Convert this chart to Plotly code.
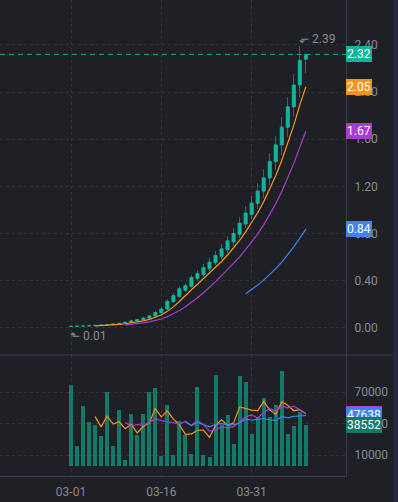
import pandas as pd
import plotly.graph_objects as go

# ---------------- data ----------------
start = "2024-03-01"
n_days = 40
dates = pd.date_range(start, periods=n_days, freq="D")

open_ = [0.010, 0.012, 0.013, 0.015, 0.017, 0.020, 0.023, 0.027, 0.032, 0.038,
         0.046, 0.056, 0.068, 0.082, 0.100, 0.128, 0.158, 0.222, 0.266, 0.318,
         0.352, 0.418, 0.452, 0.500, 0.552, 0.606, 0.662, 0.728, 0.792, 0.880,
         0.962, 1.056, 1.160, 1.272, 1.410, 1.552, 1.702, 1.875, 2.060, 2.280]
high = [0.013, 0.014, 0.016, 0.018, 0.021, 0.025, 0.029, 0.034, 0.041, 0.050,
        0.063, 0.074, 0.089, 0.110, 0.140, 0.172, 0.245, 0.296, 0.352, 0.382,
        0.450, 0.488, 0.540, 0.588, 0.648, 0.708, 0.780, 0.848, 0.940, 1.030,
        1.120, 1.230, 1.350, 1.480, 1.630, 1.790, 1.960, 2.150, 2.390, 2.320]
low = [0.010, 0.011, 0.012, 0.014, 0.016, 0.019, 0.022, 0.025, 0.030, 0.036,
       0.043, 0.052, 0.064, 0.077, 0.094, 0.120, 0.150, 0.210, 0.250, 0.300,
       0.335, 0.395, 0.430, 0.478, 0.528, 0.582, 0.635, 0.695, 0.760, 0.845,
       0.925, 1.005, 1.105, 1.210, 1.340, 1.465, 1.620, 1.790, 1.960, 2.160]
close = [0.012, 0.013, 0.015, 0.017, 0.020, 0.023, 0.027, 0.032, 0.038, 0.046,
         0.058, 0.068, 0.082, 0.100, 0.128, 0.158, 0.224, 0.272, 0.330, 0.357,
         0.426, 0.460, 0.510, 0.556, 0.613, 0.669, 0.737, 0.800, 0.888, 0.973,
         1.058, 1.160, 1.272, 1.410, 1.552, 1.702, 1.875, 2.060, 2.270, 2.320]
volume = [77000, 18500, 57000, 41800, 38500, 28000, 70200, 18500, 53000, 5500,
          49000, 29000, 49000, 70200, 73800, 9300, 57500, 10000, 42600, 29000,
          11200, 75000, 10200, 8300, 86400, 38100, 48300, 20700, 85500, 79100,
          29800, 46000, 64100, 46000, 57500, 89800, 29800, 37500, 50910, 38552]

price_ticks = [0.0, 0.4, 0.8, 1.2, 1.6, 2.0, 2.4]
volume_ticks = [10000, 40000, 70000]
date_ticks = ["2024-03-01", "2024-03-16", "2024-03-31"]
date_tick_text = ["03-01", "03-16", "03-31"]

price_ma = [(5, "#f7941d"), (10, "#a93ccf"), (30, "#3d84f0")]
volume_ma = [(5, "#f7941d"), (10, "#a93ccf"), (20, "#3d84f0")]

# ---------------- style ----------------
BG = "#1f2026"
GRID = "#32343c"
AXIS = "#3b3d45"
TXT = "#878a93"
UP = "#13b59a"
WICK = "#0f7a67"
VOL = "#117a69"
CLOSE_LINE = "#17a88f"
FONT = "Roboto"

day_ms = 86400000.0
px_per_day = 6.022
body_w = 3.0 / px_per_day * day_ms
wick_w = 1.0 / px_per_day * day_ms
vol_w = 4.0 / px_per_day * day_ms

df = pd.DataFrame({"date": dates, "open": open_, "high": high, "low": low,
                   "close": close, "volume": volume})

fig = go.Figure()

# wicks
fig.add_trace(go.Bar(x=df["date"], y=df["high"] - df["low"], base=df["low"],
                     width=wick_w, marker=dict(color=WICK, line=dict(width=0)),
                     xaxis="x", yaxis="y", hoverinfo="skip"))
# bodies
body_base = df[["open", "close"]].min(axis=1)
body_h = (df["close"] - df["open"]).abs()
fig.add_trace(go.Bar(x=df["date"], y=body_h, base=body_base, width=body_w,
                     marker=dict(color=UP, line=dict(width=1, color=UP)),
                     xaxis="x", yaxis="y"))

for n, col in price_ma:
    ma = df["close"].rolling(n).mean()
    fig.add_trace(go.Scatter(x=df["date"], y=ma, mode="lines",
                             line=dict(color=col, width=1.2),
                             xaxis="x", yaxis="y", hoverinfo="skip"))

# volume
fig.add_trace(go.Bar(x=df["date"], y=df["volume"], width=vol_w,
                     marker=dict(color=VOL, line=dict(width=0)),
                     xaxis="x", yaxis="y2"))
vol_mas = []
for n, col in volume_ma:
    ma = df["volume"].rolling(n).mean()
    vol_mas.append((ma.iloc[-1], col))
    fig.add_trace(go.Scatter(x=df["date"], y=ma, mode="lines",
                             line=dict(color=col, width=1.2),
                             xaxis="x", yaxis="y2", hoverinfo="skip"))

# geometry
W, H = 398, 502
ml, mr, mt, mb = 0, 52, 0, 26
plot_w = W - ml - mr
plot_h = H - mt - mb
split = (476 - 355) / plot_h

x0 = pd.Timestamp(start) - pd.Timedelta(days=71 / px_per_day)
x1 = pd.Timestamp(start) + pd.Timedelta(days=(plot_w - 71) / px_per_day)

fig.update_layout(
    width=W, height=H,
    margin=dict(l=ml, r=mr, t=mt, b=mb, pad=0),
    paper_bgcolor=BG, plot_bgcolor=BG,
    showlegend=False, barmode="overlay", bargap=0,
    font=dict(family=FONT, size=12, color=TXT),
    xaxis=dict(type="date", range=[x0, x1], anchor="y2",
               tickvals=date_ticks, ticktext=date_tick_text,
               showgrid=True, gridcolor=GRID, griddash="dot", gridwidth=1,
               showline=True, linecolor=AXIS, linewidth=1,
               ticks="outside", ticklen=5, tickcolor="rgba(0,0,0,0)",
               tickfont=dict(color=TXT, size=12, family=FONT),
               zeroline=False, fixedrange=True),
    yaxis=dict(domain=[split, 1], side="right", anchor="x",
               range=[-0.232, 2.782],
               tickvals=price_ticks, ticktext=[f"{v:.2f}" for v in price_ticks],
               showgrid=True, gridcolor=GRID, griddash="dot", gridwidth=1,
               showline=True, linecolor=AXIS, linewidth=1,
               ticks="outside", ticklen=5, tickcolor="rgba(0,0,0,0)",
               tickfont=dict(color=TXT, size=12, family=FONT),
               zeroline=False, fixedrange=True),
    yaxis2=dict(domain=[0, split], side="right", anchor="x",
                range=[-10000, 105238],
                tickvals=volume_ticks, ticktext=[str(v) for v in volume_ticks],
                showgrid=True, gridcolor=GRID, griddash="dot", gridwidth=1,
                showline=True, linecolor=AXIS, linewidth=1,
                ticks="outside", ticklen=5, tickcolor="rgba(0,0,0,0)",
                tickfont=dict(color=TXT, size=12, family=FONT),
                zeroline=False, fixedrange=True),
)

shapes = [
    # right strip
    dict(type="rect", xref="paper", yref="paper",
         x0=(393 - ml) / plot_w, x1=(W + 5) / plot_w, y0=-0.2, y1=1.2,
         fillcolor="#272940", line=dict(width=0), layer="above"),
    # pane separator
    dict(type="line", xref="paper", yref="paper", x0=0, x1=(393 - ml) / plot_w,
         y0=split, y1=split, line=dict(color=AXIS, width=1)),
    # last close dashed line
    dict(type="line", xref="paper", yref="y", x0=0, x1=1,
         y0=close[-1], y1=close[-1],
         line=dict(color=CLOSE_LINE, width=1, dash="5px,4px")),
]
fig.update_layout(shapes=shapes)

ann = []
# max / min marks
imax = max(range(n_days), key=lambda i: high[i])
imin = min(range(n_days), key=lambda i: low[i])
ann.append(dict(x=dates[imax], y=high[imax], xref="x", yref="y",
                text=f"⬐ {high[imax]:.2f}", showarrow=False,
                xanchor="left", yanchor="bottom", xshift=-3, yshift=-2,
                font=dict(color=TXT, size=12, family=FONT)))
ann.append(dict(x=dates[imin], y=low[imin], xref="x", yref="y",
                text=f"⬑ {low[imin]:.2f}", showarrow=False,
                xanchor="left", yanchor="top", xshift=-3, yshift=0,
                font=dict(color=TXT, size=12, family=FONT)))


def tag(val, text, col, yref):
    return dict(x=1, y=val, xref="paper", yref=yref, text=text,
                showarrow=False, xanchor="left", yanchor="middle",
                bgcolor=col, borderpad=1, borderwidth=0,
                font=dict(color="#ffffff", size=12, family=FONT))


# price tags
pm_tags = []
for n, col in price_ma:
    v = df["close"].rolling(n).mean().iloc[-1]
    pm_tags.append(tag(v, f"{v:.2f}", col, "y"))
ann.extend(pm_tags[::-1])
ann.append(tag(close[-1], f"{close[-1]:.2f}", UP, "y"))
# volume tags
for v, col in vol_mas:
    ann.append(tag(v, f"{v:.0f}", col, "y2"))
ann.append(tag(volume[-1], f"{volume[-1]:.0f}", VOL, "y2"))

fig.update_layout(annotations=ann)

fig.write_html("out.html",
               config={"displayModeBar": False, "staticPlot": True},
               post_script="document.body.style.margin='0';"
                           "document.body.style.background='" + BG + "';")
